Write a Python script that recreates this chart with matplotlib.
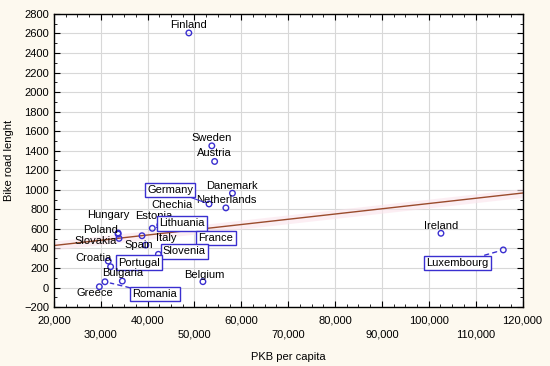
import numpy as np
import matplotlib.pyplot as plt
from matplotlib.ticker import MultipleLocator

plt.rcParams['font.family'] = ['Liberation Sans', 'DejaVu Sans']

# data: GDP per capita vs bike road length
countries = ['Finland', 'Sweden', 'Austria', 'Danemark', 'Netherlands', 'Germany',
             'Belgium', 'Ireland', 'Luxembourg', 'Hungary', 'Poland', 'Slovakia',
             'Estonia', 'Chechia', 'Lithuania', 'Italy', 'Spain', 'France',
             'Slovenia', 'Croatia', 'Portugal', 'Bulgaria', 'Greece', 'Romania']
pkb = [48800, 53700, 54300, 58100, 56700, 53100,
       51800, 102600, 115900, 33700, 33700, 33900,
       42600, 45800, 41000, 38800, 39600, 54600,
       42300, 31600, 32100, 34600, 29700, 30900]
bike = [2605, 1450, 1290, 965, 815, 855,
        60, 555, 385, 558, 547, 503,
        640, 680, 606, 530, 435, 506,
        340, 271, 213, 66, 8, 59]

# regression line as drawn in the reference
fit_x = [20000, 120000]
fit_y = [430, 967]

# label placement (offset in pixels from the point), boxed / connector style
label_offset = {
    'Finland': (0, 8), 'Sweden': (0, 8), 'Austria': (0, 8), 'Danemark': (0, 7),
    'Netherlands': (0, 8), 'Germany': (-39, 14), 'Belgium': (1, 7), 'Ireland': (0, 7),
    'Luxembourg': (-46, -13), 'Hungary': (-10, 18), 'Poland': (-18, 4),
    'Slovakia': (-23, -3), 'Estonia': (-6, 9), 'Chechia': (-3, 16),
    'Lithuania': (30, 5), 'Italy': (24, -2), 'Spain': (-7, 0), 'France': (0, 0),
    'Slovenia': (26, 3), 'Croatia': (-15, 3), 'Portugal': (28, 4),
    'Bulgaria': (0, 8), 'Greece': (-4, -6), 'Romania': (50, -12),
}
boxed = ['Germany', 'Lithuania', 'France', 'Slovenia', 'Portugal', 'Romania', 'Luxembourg']
dashed = ['Romania', 'Luxembourg']
solid_link = ['Germany', 'Lithuania']

blue = '#3a2fd0'
fs = 8

fig = plt.figure(figsize=(5.5, 3.66), dpi=100, facecolor='#fdf9ef')
ax = fig.add_axes([0.098, 0.161, 0.852, 0.801])

fx = np.linspace(fit_x[0], fit_x[1], 50)
fy = np.interp(fx, fit_x, fit_y)
ax.fill_between(fx, fy - 45, fy + 45, color='#fbe4ec', alpha=0.6, lw=0, zorder=1)
ax.plot(fit_x, fit_y, color='#9a4b2c', lw=1, zorder=2)

ax.scatter(pkb, bike, s=16, facecolors='none', edgecolors=blue, linewidths=1, zorder=3)

for name, x, y in zip(countries, pkb, bike):
    dx, dy = label_offset[name]
    kw = dict(textcoords='offset pixels', ha='center', va='center', fontsize=fs, zorder=5)
    if name in boxed:
        kw['bbox'] = dict(boxstyle='square,pad=0.2', fc='white', ec=blue, lw=1)
    if name in dashed:
        kw['arrowprops'] = dict(arrowstyle='-', color=blue, lw=1, ls=(0, (3, 3)),
                                shrinkA=0, shrinkB=4)
    elif name in solid_link:
        kw['arrowprops'] = dict(arrowstyle='-', color=blue, lw=0.8, shrinkA=0, shrinkB=3)
    ax.annotate(name, (x, y), xytext=(dx, dy), **kw)

ax.set_xlim(20000, 120000)
ax.set_ylim(-200, 2800)
ax.xaxis.set_minor_locator(MultipleLocator(2500))
ax.yaxis.set_major_locator(MultipleLocator(200))
ax.yaxis.set_minor_locator(MultipleLocator(100))

# staggered x tick labels, two rows
xt = np.arange(20000, 120001, 10000)
ax.set_xticks(xt)
ax.set_xticklabels([f'{v:,}' if i % 2 == 0 else f'\n{v:,}' for i, v in enumerate(xt)],
                   linespacing=1.5)

ax.grid(True, which='major', color='#d8d8d8', lw=0.8, zorder=0)
ax.set_axisbelow(True)
ax.tick_params(which='both', direction='in', top=True, right=True, labelsize=fs)
ax.tick_params(axis='x', pad=6)
ax.tick_params(which='major', length=4)
ax.tick_params(which='minor', length=2)
for s in ax.spines.values():
    s.set_linewidth(1)

ax.set_xlabel('PKB per capita', fontsize=fs, labelpad=9)
ax.set_ylabel('Bike road lenght', fontsize=fs, labelpad=7)

fig.savefig('out.png', dpi=100, facecolor=fig.get_facecolor())
